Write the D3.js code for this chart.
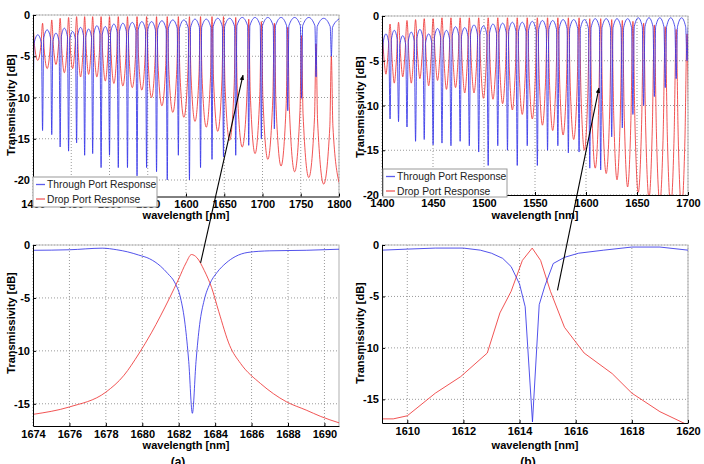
<!DOCTYPE html>
<html>
<head>
<meta charset="utf-8">
<script src="https://cdn.jsdelivr.net/npm/d3@7"></script>
<style>
body { margin: 0; background: #fff; }
text { font-family: "Liberation Sans", Arial, sans-serif; }
</style>
</head>
<body>
<svg id="fig" width="704" height="464"></svg>
<script>
// ---- (a) overview 1400-1800 nm: one entry per resonance ----
const resA = [1400, 1412.5, 1424.5, 1435.5, 1446.5, 1457, 1467.5, 1478, 1489, 1500, 1511.5, 1523.5, 1536, 1548.5,
    1561.5, 1575.5, 1590, 1604.5, 1619, 1634, 1649, 1665, 1682, 1698.5, 1715.5, 1733, 1751, 1770, 1790];
const thruDipA = [-10, -14, -14.5, -16, -16.5, -15.5, -17, -16.8, -18.5, -17, -18.5, -18.5, -19.5, -18.5,
    -19, -20, -17, -20, -18.5, -17.5, -17.2, -17, -15.8, -15, -13.8, -11.6, -10.1, -7.5, -5];
// level between this resonance and the next
const thruTopA = [-2.4, -1.8, -2.2, -1.6, -2, -1.5, -1.7, -1.3, -1.4, -1.1, -1, -0.9, -0.8, -0.8,
    -0.7, -0.6, -0.6, -0.5, -0.5, -0.4, -0.4, -0.3, -0.3, -0.3, -0.3, -0.3, -0.3, -0.4, -0.5];
const dropPeakA = [-1.5, -1, -0.6, -0.4, -0.3, -0.2, -0.2, -0.2, -0.2, -0.2, -0.2, -0.2, -0.2, -0.2,
    -0.2, -0.2, -0.2, -0.2, -0.2, -0.2, -0.2, -0.3, -0.5, -0.8, -1, -1.5, -2.5, -3.5, -5];
const dropFloorA = [-5.5, -6.5, -6, -7, -6.5, -7.5, -7.2, -7.5, -8, -8.3, -8.6, -8.8, -9.1, -10,
    -11, -11.8, -12.4, -12.9, -13.6, -14.1, -15.2, -16, -16.8, -17.5, -18.3, -19, -19.7, -20.5, -20.3];

// ---- (b) overview 1400-1700 nm ----
const resB = [1399.8, 1407.9, 1416.2, 1424.5, 1432.9, 1441.4, 1450.1, 1458.8, 1467.6, 1476.6, 1485.6, 1494.8,
    1504.1, 1513.5, 1523, 1532.6, 1542.4, 1552.3, 1562.3, 1572.4, 1582.7, 1593.2, 1603.7, 1614.4,
    1625.2, 1635.6, 1646, 1656.5, 1667, 1677.7, 1688.4, 1699];
const thruDipB = [-10.5, -11.5, -11.8, -12.4, -14, -13.8, -14.4, -14.2, -14.5, -14, -14.5, -15.2,
    -16.7, -14.5, -15, -16.7, -14.5, -16.7, -15, -14.5, -15.3, -15.2, -17, -17.2,
    -13.5, -12.5, -11, -10, -9, -8, -7, -5];
const thruTopB = [-2, -1.6, -2.2, -1.8, -1.5, -2, -1.4, -1.6, -1.2, -1.3, -1, -1.1,
    -0.9, -0.8, -0.7, -0.7, -0.6, -0.5, -0.5, -0.4, -0.4, -0.4, -0.3, -0.3,
    -0.3, -0.3, -0.2, -0.2, -0.2, -0.2, -0.2, -0.2];
const dropPeakB = [-1.5, -0.9, -0.7, -0.5, -0.4, -0.3, -0.3, -0.2, -0.2, -0.2, -0.2, -0.2,
    -0.2, -0.2, -0.2, -0.2, -0.2, -0.2, -0.2, -0.2, -0.2, -0.2, -0.3, -0.3,
    -0.4, -0.5, -0.6, -0.8, -1, -1.2, -1.5, -2];
const dropFloorB = [-6.5, -7.5, -6.8, -7.5, -7, -7.8, -7.2, -8.2, -8, -8.6, -8.6, -9.2,
    -9.3, -9.8, -10.5, -11, -11.5, -12.2, -12.8, -13.3, -13.8, -15, -17, -17.6,
    -18.3, -19.1, -19.7, -20.3, -20.8, -21.2, -21.5, -21.5];

// ---- zoom on one resonance, (a) ----
const zaThruNm = [1674, 1676, 1677.8, 1678.6, 1679.2, 1679.8, 1680.4, 1681, 1681.4, 1681.8, 1682.1, 1682.35, 1682.55,
    1682.75, 1682.95, 1683.15, 1683.4, 1683.7, 1684.1, 1684.6, 1685.1, 1685.8, 1687, 1689, 1690.8];
const zaThruDb = [-0.5, -0.45, -0.3, -0.45, -0.65, -0.95, -1.3, -2, -2.7, -3.6, -5, -7.5, -11,
    -15.9, -11, -7.5, -5.2, -3.7, -2.6, -1.7, -1.1, -0.7, -0.55, -0.5, -0.4];
const zaDropNm = [1674, 1676, 1678, 1679, 1679.8, 1680.5, 1681, 1681.5, 1682, 1682.4, 1682.7, 1683, 1683.4,
    1683.8, 1684.2, 1684.8, 1685.4, 1686.5, 1687.9, 1689, 1689.8, 1690.8];
const zaDropDb = [-16, -15.3, -13.9, -12.3, -10.3, -8.3, -6.7, -5, -3.2, -1.7, -0.9, -1.2, -2.4,
    -4, -6.3, -9.5, -11.2, -13.1, -14.8, -15.6, -16.2, -16.8];

// ---- zoom on one resonance, (b) ----
const zbThruNm = [1609.1, 1610, 1611, 1612, 1612.6, 1613, 1613.4, 1613.7, 1614, 1614.2, 1614.46, 1614.7,
    1614.9, 1615.2, 1615.6, 1616.1, 1617, 1618, 1619, 1620];
const zbThruDb = [-0.5, -0.4, -0.3, -0.3, -0.5, -0.8, -1.3, -2.1, -3.8, -6, -17.2, -5.8,
    -4, -1.8, -1.2, -0.8, -0.5, -0.2, -0.2, -0.5];
const zbDropNm = [1609.1, 1609.5, 1610, 1611, 1611.9, 1612.85, 1613.3, 1613.7, 1614.1, 1614.45, 1614.75,
    1615.1, 1615.6, 1616.3, 1617.3, 1618, 1619, 1620];
const zbDropDb = [-16.9, -16.9, -16.6, -14.4, -12.8, -10.5, -6.6, -4.5, -1.5, -0.3, -1.5,
    -4.5, -8, -10.5, -12.5, -14.4, -16.2, -17.5];

// tick labels
const xTicksA = [1400, 1450, 1500, 1550, 1600, 1650, 1700, 1750, 1800];
const xTicksB = [1400, 1450, 1500, 1550, 1600, 1650, 1700];
const xTicksZA = [1674, 1676, 1678, 1680, 1682, 1684, 1686, 1688, 1690];
const xTicksZB = [1610, 1612, 1614, 1616, 1618, 1620];
const yTicksTop = [-20, -15, -10, -5, 0];
const yTicksZoom = [-15, -10, -5, 0];
const legendNames = ["Through Port Response", "Drop Port Response"];

const blue = "#3434e8", red = "#ee3636";
const svg = d3.select("#fig");

function panel(id, box, xDom, yDom, xTicks, yTicks) {
    var x = d3.scaleLinear().domain(xDom).range([box.left, box.right]);
    var y = d3.scaleLinear().domain(yDom).range([box.bottom, box.top]);
    var g = svg.append("g");

    g.append("clipPath").attr("id", "clip-" + id)
        .append("rect")
        .attr("x", box.left).attr("y", box.top)
        .attr("width", box.right - box.left).attr("height", box.bottom - box.top);

    // dotted grid
    g.append("g").selectAll("line").data(xTicks).join("line")
        .attr("x1", d => x(d)).attr("x2", d => x(d))
        .attr("y1", box.top).attr("y2", box.bottom)
        .attr("stroke", "#9a9a9a").attr("stroke-dasharray", "1,2");
    g.append("g").selectAll("line").data(yTicks).join("line")
        .attr("x1", box.left).attr("x2", box.right)
        .attr("y1", d => y(d)).attr("y2", d => y(d))
        .attr("stroke", "#9a9a9a").attr("stroke-dasharray", "1,2");

    // light box on top and right
    g.append("path")
        .attr("d", `M${box.left},${box.top}H${box.right}V${box.bottom}`)
        .attr("fill", "none").attr("stroke", "#bdbdbd").attr("stroke-width", 1.2);

    var curves = g.append("g").attr("clip-path", "url(#clip-" + id + ")");

    var xa = g.append("g").attr("transform", `translate(0,${box.bottom})`)
        .call(d3.axisBottom(x).tickValues(xTicks).tickSizeInner(-3).tickSizeOuter(0)
            .tickPadding(4).tickFormat(d => String(d)));
    var ya = g.append("g").attr("transform", `translate(${box.left},0)`)
        .call(d3.axisLeft(y).tickValues(yTicks).tickSizeInner(-3).tickSizeOuter(0)
            .tickPadding(3).tickFormat(d => String(d)));
    [xa, ya].forEach(a => {
        a.selectAll("text").attr("font-size", 11).attr("font-weight", "bold").attr("fill", "#000");
        a.select(".domain").attr("stroke", "#000");
        a.selectAll(".tick line").attr("stroke", "#000");
    });

    g.append("text")
        .attr("x", (box.left + box.right) / 2).attr("y", box.xTitleY)
        .attr("text-anchor", "middle").attr("font-size", 11).attr("font-weight", "bold")
        .text("wavelength [nm]");
    g.append("text")
        .attr("transform", `translate(${box.yTitleX},${box.yTitleMid}) rotate(-90)`)
        .attr("text-anchor", "middle").attr("font-size", 11).attr("font-weight", "bold")
        .text("Transmissivity [dB]");

    return { g: g, x: x, y: y, curves: curves };
}

// through port: narrow dips hanging from arches
function thruPoints(res, dip, top, hw) {
    var pts = [];
    res.forEach((c, i) => {
        var before = i === 0 ? top[0] : top[i - 1];
        var next = i < res.length - 1 ? res[i + 1] : c + (c - res[i - 1]);
        pts.push([c - hw, before - 1]);
        pts.push([c, dip[i]]);
        pts.push([c + hw, top[i] - 1]);
        pts.push([(c + next) / 2, top[i]]);
    });
    return pts;
}

// drop port: sharp peaks standing on round valleys
function dropPoints(res, peak, floor, hw, frac) {
    var pts = [];
    res.forEach((c, i) => {
        var before = i === 0 ? floor[0] : floor[i - 1];
        var next = i < res.length - 1 ? res[i + 1] : c + (c - res[i - 1]);
        pts.push([c - hw, peak[i] + frac * (before - peak[i])]);
        pts.push([c, peak[i]]);
        pts.push([c + hw, peak[i] + frac * (floor[i] - peak[i])]);
        pts.push([(c + next) / 2, floor[i]]);
    });
    return pts;
}

function drawLine(p, pts, color, curve) {
    var line = d3.line().x(d => p.x(d[0])).y(d => p.y(d[1])).curve(curve);
    p.curves.append("path")
        .attr("d", line(pts))
        .attr("fill", "none")
        .attr("stroke", color)
        .attr("stroke-width", 1)
        .attr("stroke-opacity", 0.85);
}

function legend(p, x0, y0, w, h) {
    var lg = p.g.append("g");
    lg.append("rect").attr("x", x0).attr("y", y0).attr("width", w).attr("height", h)
        .attr("fill", "#fff").attr("stroke", "#9a9a9a");
    [blue, red].forEach((c, i) => {
        var yy = y0 + 7.5 + i * 14.5;
        lg.append("line").attr("x1", x0 + 3).attr("x2", x0 + 12).attr("y1", yy).attr("y2", yy)
            .attr("stroke", c).attr("stroke-width", 1.3).attr("stroke-opacity", 0.8);
        lg.append("text").attr("x", x0 + 14).attr("y", yy + 3.8)
            .attr("font-size", 10.3).attr("fill", "#222").text(legendNames[i]);
    });
}

// ---- panels ----
var pA = panel("a", { left: 33, right: 339, top: 15, bottom: 196.5, xTitleY: 219, yTitleX: 15, yTitleMid: 105 },
    [1400, 1800], [-22, 0], xTicksA, yTicksTop);
drawLine(pA, dropPoints(resA, dropPeakA, dropFloorA, 2, 0.55), red, d3.curveMonotoneX);
drawLine(pA, thruPoints(resA, thruDipA, thruTopA, 1.5), blue, d3.curveMonotoneX);
legend(pA, 33, 177, 124, 30);

var pB = panel("b", { left: 382, right: 688, top: 16, bottom: 195, xTitleY: 219, yTitleX: 364, yTitleMid: 107 },
    [1400, 1700], [-20, 0], xTicksB, yTicksTop);
drawLine(pB, dropPoints(resB, dropPeakB, dropFloorB, 2, 0.6), red, d3.curveMonotoneX);
drawLine(pB, thruPoints(resB, thruDipB, thruTopB, 1.3), blue, d3.curveMonotoneX);
legend(pB, 383, 169, 124, 28);

var pZA = panel("za", { left: 33, right: 339, top: 245, bottom: 426, xTitleY: 449, yTitleX: 15, yTitleMid: 323 },
    [1674, 1690.8], [-17.1, 0], xTicksZA, yTicksZoom);
drawLine(pZA, d3.zip(zaDropNm, zaDropDb), red, d3.curveMonotoneX);
drawLine(pZA, d3.zip(zaThruNm, zaThruDb), blue, d3.curveMonotoneX);

var pZB = panel("zb", { left: 382, right: 688, top: 245, bottom: 423, xTitleY: 449, yTitleX: 364, yTitleMid: 333 },
    [1609.1, 1620], [-17.3, 0], xTicksZB, yTicksZoom);
drawLine(pZB, d3.zip(zbDropNm, zbDropDb), red, d3.curveLinear);
drawLine(pZB, d3.zip(zbThruNm, zbThruDb), blue, d3.curveLinear);

// ---- arrows from each zoom to its place in the overview ----
svg.append("defs").append("marker")
    .attr("id", "head").attr("viewBox", "0 0 10 10").attr("refX", 9).attr("refY", 5)
    .attr("markerWidth", 5).attr("markerHeight", 5).attr("orient", "auto")
    .append("path").attr("d", "M0,1L10,5L0,9Z").attr("fill", "#000");

const arrows = [
    { from: [pZA, 1683.2, -1.7], to: [pA, 1674.5, -7.3] },
    { from: [pZB, 1615.35, -4.4], to: [pB, 1612.7, -8.05] }
];
arrows.forEach(a => {
    svg.append("line")
        .attr("x1", a.from[0].x(a.from[1])).attr("y1", a.from[0].y(a.from[2]))
        .attr("x2", a.to[0].x(a.to[1])).attr("y2", a.to[0].y(a.to[2]))
        .attr("stroke", "#000").attr("stroke-width", 1.1)
        .attr("marker-end", "url(#head)");
});

// sub-figure letters, cut by the lower edge as in the source figure
svg.append("text").attr("x", 178).attr("y", 466).attr("text-anchor", "middle")
    .attr("font-size", 12).attr("font-weight", "bold").text("(a)");
svg.append("text").attr("x", 528).attr("y", 466).attr("text-anchor", "middle")
    .attr("font-size", 12).attr("font-weight", "bold").text("(b)");
</script>
</body>
</html>
